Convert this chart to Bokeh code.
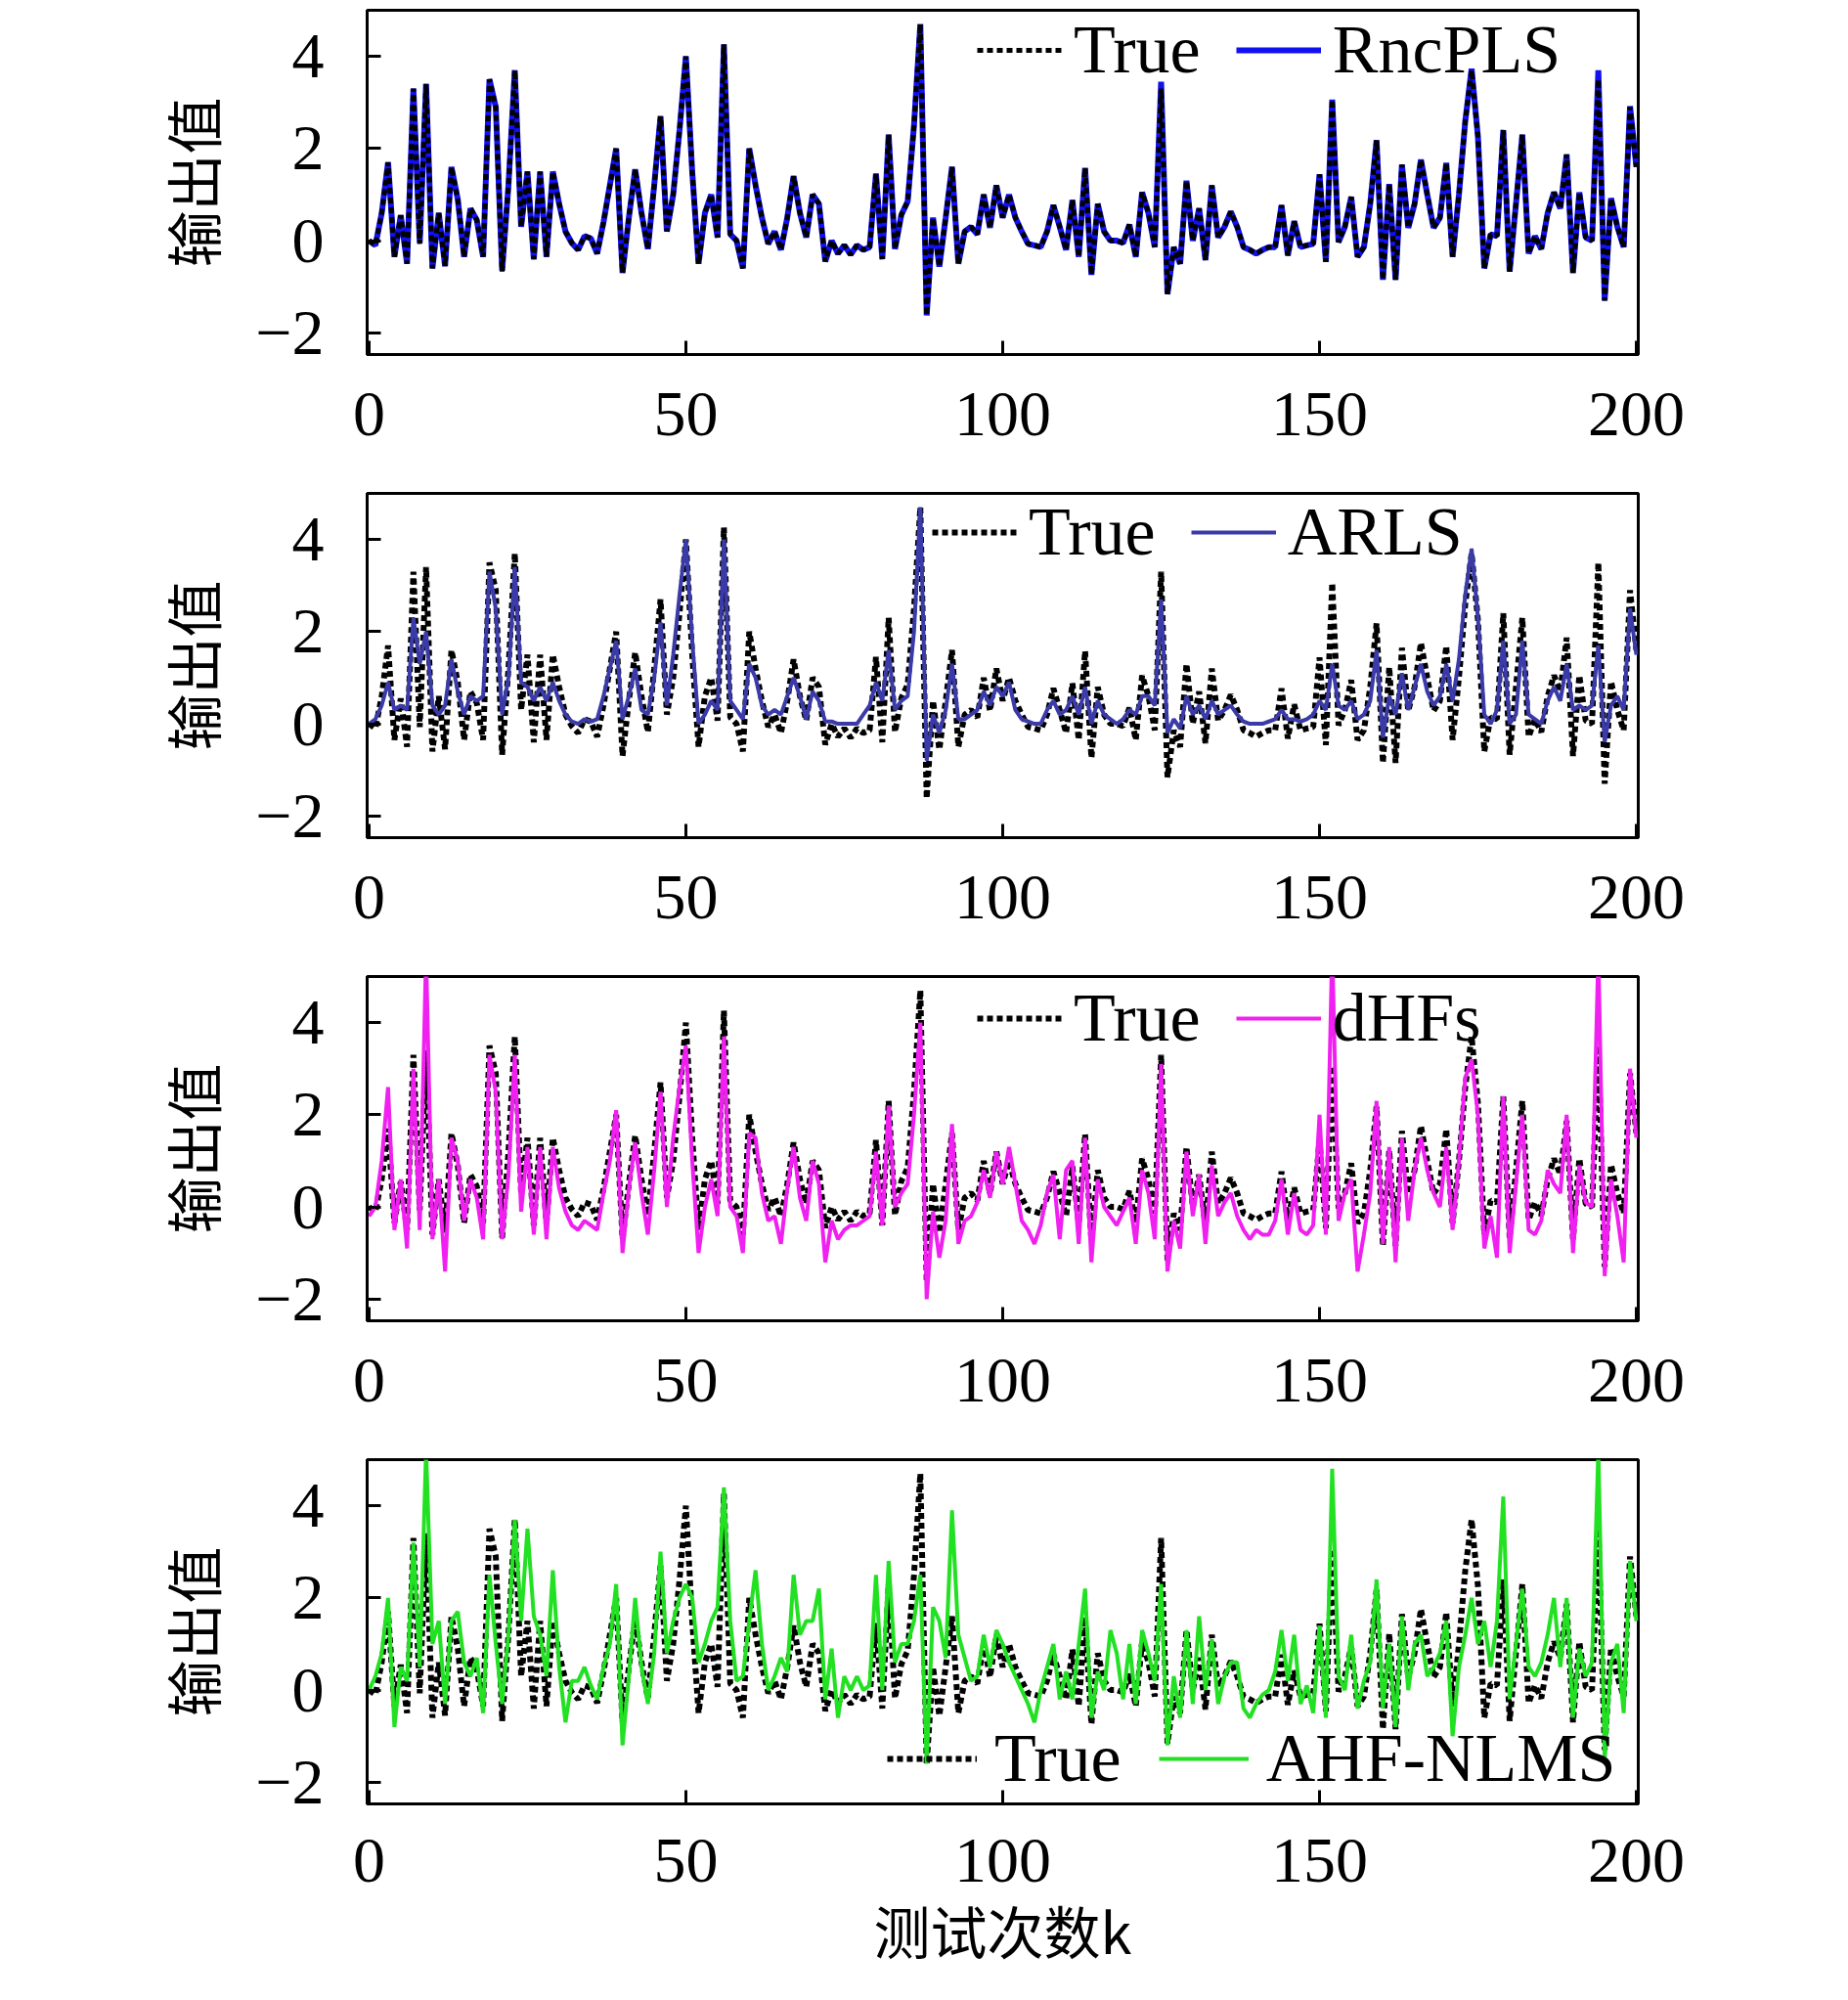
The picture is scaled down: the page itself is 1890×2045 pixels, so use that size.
from bokeh.plotting import figure
from bokeh.layouts import column
from bokeh.models import Range1d, FixedTicker, Legend, LegendItem
from bokeh.embed import file_html
from bokeh.resources import INLINE

# ---------------- data ----------------
k_vals = list(range(201))

true_vals = [
    0.0, -0.1, 0.6, 1.7, -0.35, 0.55, -0.5, 3.3, -0.07, 3.4,
    -0.6, 0.6, -0.55, 1.6, 0.9, -0.35, 0.7, 0.45, -0.35, 3.5,
    2.9, -0.67, 1.2, 3.7, 0.3, 1.5, -0.4, 1.5, -0.35, 1.5,
    0.8, 0.2, -0.05, -0.2, 0.1, 0.05, -0.28, 0.4, 1.2, 2.0,
    -0.7, 0.5, 1.55, 0.6, -0.18, 1.2, 2.7, 0.2, 1.0, 2.4,
    4.0, 1.5, -0.5, 0.6, 1.0, 0.07, 4.26, 0.14, 0.0, -0.6,
    2.0, 1.2, 0.5, -0.07, 0.2, -0.2, 0.5, 1.4, 0.6, 0.07,
    1.0, 0.8, -0.45, 0.0, -0.28, -0.1, -0.3, -0.1, -0.2, -0.14,
    1.45, -0.4, 2.3, -0.18, 0.56, 0.85, 2.5, 4.7, -1.62, 0.5,
    -0.56, 0.5, 1.6, -0.5, 0.2, 0.3, 0.14, 1.0, 0.28, 1.2,
    0.5, 1.0, 0.5, 0.2, -0.07, -0.1, -0.14, 0.2, 0.77, 0.3,
    -0.2, 0.88, -0.35, 1.58, -0.74, 0.8, 0.2, 0.0, 0.0, -0.05,
    0.35, -0.35, 1.05, 0.6, -0.14, 3.3, -1.16, -0.14, -0.5, 1.3,
    0.0, 0.7, -0.42, 1.2, 0.07, 0.3, 0.63, 0.3, -0.14, -0.2,
    -0.28, -0.2, -0.14, -0.14, 0.77, -0.32, 0.42, -0.14, -0.1, -0.07,
    1.44, -0.46, 3.06, -0.03, 0.3, 0.95, -0.35, -0.14, 0.8, 2.18,
    -0.85, 1.23, -0.85, 1.65, 0.28, 0.8, 1.76, 1.0, 0.28, 0.5,
    1.69, -0.35, 1.0, 2.6, 3.7, 2.25, -0.6, 0.14, 0.1, 2.4,
    -0.67, 0.8, 2.3, -0.28, 0.1, -0.18, 0.6, 1.05, 0.7, 1.87,
    -0.7, 1.05, 0.07, 0.0, 3.5, -1.3, 0.92, 0.3, -0.14, 2.9,
    1.6,
]

rncpls_vals = [
    0.0, -0.1, 0.6, 1.7, -0.35, 0.55, -0.5, 3.3, -0.05, 3.4,
    -0.6, 0.6, -0.55, 1.6, 0.9, -0.35, 0.7, 0.45, -0.35, 3.5,
    2.9, -0.65, 1.2, 3.7, 0.3, 1.5, -0.4, 1.5, -0.35, 1.5,
    0.8, 0.2, -0.05, -0.2, 0.1, 0.05, -0.28, 0.4, 1.2, 2.0,
    -0.7, 0.5, 1.55, 0.6, -0.18, 1.2, 2.7, 0.2, 1.0, 2.4,
    4.0, 1.5, -0.5, 0.6, 1.0, 0.07, 4.26, 0.14, 0.0, -0.6,
    2.0, 1.2, 0.5, -0.07, 0.2, -0.2, 0.5, 1.4, 0.6, 0.07,
    1.0, 0.8, -0.45, 0.0, -0.28, -0.1, -0.3, -0.1, -0.2, -0.14,
    1.45, -0.4, 2.3, -0.18, 0.56, 0.85, 2.5, 4.7, -1.62, 0.5,
    -0.56, 0.5, 1.6, -0.5, 0.2, 0.3, 0.14, 1.0, 0.28, 1.2,
    0.5, 1.0, 0.5, 0.2, -0.07, -0.1, -0.14, 0.2, 0.77, 0.3,
    -0.2, 0.88, -0.35, 1.58, -0.74, 0.8, 0.2, 0.0, 0.0, -0.05,
    0.35, -0.35, 1.05, 0.6, -0.14, 3.45, -1.16, -0.14, -0.5, 1.3,
    0.0, 0.7, -0.42, 1.2, 0.07, 0.3, 0.63, 0.3, -0.14, -0.2,
    -0.28, -0.2, -0.14, -0.14, 0.77, -0.32, 0.42, -0.14, -0.1, -0.07,
    1.44, -0.46, 3.06, -0.03, 0.3, 0.95, -0.35, -0.14, 0.8, 2.18,
    -0.85, 1.23, -0.85, 1.65, 0.28, 0.8, 1.76, 1.0, 0.28, 0.5,
    1.69, -0.35, 1.0, 2.6, 3.73, 2.25, -0.6, 0.14, 0.1, 2.4,
    -0.67, 0.8, 2.3, -0.28, 0.1, -0.18, 0.6, 1.05, 0.7, 1.87,
    -0.7, 1.05, 0.07, 0.0, 3.7, -1.3, 0.92, 0.3, -0.14, 2.92,
    1.6,
]

arls_vals = [
    0.0, 0.1, 0.4, 0.9, 0.3, 0.4, 0.3, 2.3, 1.3, 2.0,
    0.4, 0.2, 0.4, 1.4, 0.7, 0.2, 0.6, 0.5, 0.6, 3.3,
    2.5, 0.2, 1.0, 3.4, 0.9, 0.8, 0.5, 0.8, 0.5, 0.9,
    0.5, 0.2, 0.05, 0.0, 0.1, 0.05, 0.1, 0.6, 1.2, 1.8,
    0.1, 0.6, 1.2, 0.3, 0.2, 1.0, 2.2, 0.4, 1.5, 2.8,
    4.0, 1.8, 0.0, 0.2, 0.5, 0.3, 4.0, 0.5, 0.3, 0.1,
    1.3, 1.0, 0.4, 0.2, 0.3, 0.2, 0.6, 1.0, 0.6, 0.1,
    0.7, 0.5, 0.05, 0.05, 0.0, 0.0, 0.0, 0.0, 0.2, 0.4,
    0.9, 0.5, 1.6, 0.3, 0.5, 0.6, 2.0, 4.7, -0.8, 0.2,
    -0.2, 0.3, 1.3, 0.1, 0.1, 0.2, 0.3, 0.7, 0.4, 0.8,
    0.6, 0.9, 0.3, 0.1, 0.05, 0.0, 0.0, 0.3, 0.5, 0.2,
    0.3, 0.6, 0.2, 0.8, 0.0, 0.5, 0.2, 0.1, 0.0, 0.1,
    0.3, 0.2, 0.6, 0.6, 0.4, 2.7, -0.2, 0.1, -0.1, 0.6,
    0.2, 0.4, 0.1, 0.5, 0.2, 0.3, 0.4, 0.2, 0.05, 0.0,
    0.0, 0.0, 0.05, 0.1, 0.3, 0.1, 0.1, 0.05, 0.1, 0.2,
    0.5, 0.3, 1.3, 0.4, 0.3, 0.5, 0.1, 0.2, 0.5, 1.6,
    -0.3, 0.6, 0.2, 1.1, 0.3, 0.8, 1.3, 0.7, 0.4, 0.6,
    1.3, 0.5, 1.4, 2.8, 3.8, 2.3, 0.2, 0.0, 0.3, 1.8,
    0.0, 0.2, 1.8, 0.2, 0.1, 0.0, 0.5, 0.8, 0.5, 1.3,
    0.3, 0.4, 0.3, 0.4, 1.7, -0.4, 0.4, 0.6, 0.3, 2.5,
    1.5,
]

dhfs_vals = [
    -0.2, 0.0, 1.0, 2.6, -0.5, 0.6, -0.9, 3.0, -0.5, 5.5,
    -0.7, 0.6, -1.4, 1.5, 1.0, -0.3, 0.6, 0.2, -0.7, 3.3,
    2.5, -0.7, 0.7, 3.3, -0.1, 1.3, -0.6, 1.3, -0.7, 1.3,
    0.4, -0.1, -0.4, -0.5, -0.3, -0.4, -0.5, 0.3, 1.0, 2.1,
    -1.0, 0.4, 1.4, 0.3, -0.6, 0.8, 2.5, 0.0, 1.5, 2.6,
    3.5, 1.0, -1.0, 0.0, 0.6, -0.2, 3.7, 0.0, -0.2, -1.0,
    1.6, 1.5, 0.3, -0.3, -0.2, -0.8, 0.4, 1.3, 0.2, -0.3,
    1.0, 0.5, -1.2, -0.3, -0.7, -0.5, -0.4, -0.4, -0.3, -0.2,
    1.2, -0.4, 2.2, 0.0, 0.3, 0.5, 2.0, 4.0, -2.0, -0.1,
    -1.1, -0.3, 1.8, -0.8, -0.3, -0.2, 0.1, 0.8, 0.2, 1.2,
    0.5, 1.3, 0.5, -0.3, -0.5, -0.8, -0.4, 0.3, 0.7, -0.7,
    0.8, 1.0, -0.8, 1.5, -1.2, 0.6, 0.0, -0.2, -0.4, -0.1,
    0.2, -0.8, 0.8, 0.3, -0.7, 3.1, -1.4, -0.3, -0.9, 1.2,
    -0.2, 0.7, -0.8, 0.9, -0.2, 0.1, 0.3, -0.2, -0.5, -0.7,
    -0.5, -0.6, -0.6, -0.3, 0.6, -0.6, 0.3, -0.5, -0.6, -0.4,
    2.0, -0.6, 5.6, -0.3, 0.3, 0.6, -1.4, -0.6, 0.3, 2.3,
    -0.8, 1.3, -1.2, 1.5, -0.3, 0.8, 1.5, 0.8, 0.3, 0.0,
    1.3, -0.5, 1.0, 2.8, 3.2, 2.0, -0.9, -0.2, -1.1, 2.4,
    -1.0, 0.5, 2.0, -0.5, -0.6, -0.3, 0.8, 0.5, 0.3, 2.0,
    -1.0, 0.9, 0.1, 0.0, 5.5, -1.5, 0.6, -0.2, -1.2, 3.0,
    1.5,
]

ahf_vals = [
    0.0, 0.3, 0.8, 2.0, -0.8, 0.5, 0.2, 3.2, 0.5, 5.2,
    1.0, 1.5, -0.3, 1.5, 1.7, 0.6, 0.3, 0.7, -0.5, 2.5,
    1.0, -0.3, 1.2, 3.7, 1.5, 3.5, 1.6, 1.2, 0.3, 2.6,
    0.5, -0.7, 0.2, 0.2, 0.5, 0.1, -0.2, 0.5, 1.0, 2.3,
    -1.2, 0.3, 2.0, 0.5, -0.3, 0.8, 3.0, 0.8, 1.5, 2.0,
    2.3, 2.0, 0.6, 1.0, 1.5, 1.8, 4.4, 1.5, 0.2, 0.3,
    1.5, 2.6, 1.0, 0.0, 0.3, 0.7, 0.4, 2.5, 1.2, 1.5,
    1.5, 2.2, -0.2, 0.9, -0.6, 0.3, 0.0, 0.3, 0.0, 0.1,
    2.5, 0.0, 2.8, 0.6, 1.0, 1.0, 1.5, 2.5, -1.6, 1.8,
    1.5, 0.7, 3.9, 1.2, 0.7, 0.2, 0.3, 1.2, 0.5, 1.3,
    1.0, 0.6, 0.3, 0.0, -0.3, -0.7, 0.0, 0.5, 1.0, -0.2,
    0.4, -0.2, 1.0, 2.2, -0.6, 0.4, 0.0, 1.3, 0.8, -0.2,
    1.0, -0.3, 1.3, 0.8, 0.2, 2.3, -1.2, 0.3, -0.6, 1.3,
    -0.3, 1.6, 0.0, 1.1, -0.3, 0.3, 0.6, 0.6, -0.4, -0.6,
    -0.3, -0.1, 0.0, 0.4, 1.3, 0.2, 1.2, -0.3, 0.1, -0.5,
    1.4, -0.6, 4.8, 0.3, 0.0, 1.2, -0.4, 0.2, 0.6, 2.4,
    -0.4, 1.0, -0.8, 1.6, 0.0, 1.0, 1.2, 0.3, 0.5, 0.8,
    1.5, -1.0, 0.5, 1.2, 2.0, 1.0, 1.5, 0.5, 1.5, 4.2,
    -0.2, 1.0, 2.2, 0.5, 0.3, 0.6, 1.2, 2.0, 0.5, 2.0,
    -0.6, 0.9, 0.3, 0.6, 5.2, -1.5, 0.6, 1.0, -0.5, 2.8,
    1.5,
]

series_names = ["RncPLS", "ARLS", "dHFs", "AHF-NLMS"]
series_values = [rncpls_vals, arls_vals, dhfs_vals, ahf_vals]
series_colors = ["#1010F0", "#3A3AA8", "#F020F0", "#22E022"]
x_ticks = [0, 50, 100, 150, 200]
y_ticks = [-2, 0, 2, 4]
y_label = "输出值"
x_label = "测试次数k"

SERIF = "Liberation Serif"
CJK = "Noto Sans CJK SC"

legend_locs = [(624, 271), (578, 272), (624, 269), (532, 6)]
legend_glyph_w = [87, 87, 87, 92]
legend_standoff = [12, 12, 12, 18]
legend_spacing = [36, 36, 36, 38]


def make_panel(i):
    last = (i == 3)
    p = figure(frame_width=1300, frame_height=352,
               min_border_left=375, min_border_right=195,
               min_border_top=10, min_border_bottom=(185 if last else 132),
               output_backend="svg", toolbar_location=None,
               x_range=Range1d(-0.3, 200.3), y_range=Range1d(-2.47, 5.0))
    p.grid.visible = False
    p.background_fill_color = "white"
    p.border_fill_color = "white"
    p.outline_line_color = "black"
    p.outline_line_width = 3
    p.outline_line_alpha = 1.0

    for ax in (p.xaxis[0], p.yaxis[0]):
        ax.axis_line_width = 3
        ax.axis_line_color = "black"
        ax.major_tick_line_width = 3
        ax.major_tick_line_color = "black"
        ax.major_tick_in = 14
        ax.major_tick_out = 0
        ax.minor_tick_line_color = None
        ax.major_label_text_font = SERIF
        ax.major_label_text_font_size = "66px"
        ax.major_label_text_color = "black"

    p.xaxis.ticker = FixedTicker(ticks=x_ticks)
    p.yaxis.ticker = FixedTicker(ticks=y_ticks)
    p.yaxis.major_label_overrides = {-2: "\u22122"}
    p.xaxis.major_label_standoff = 36 if last else 39
    p.yaxis.major_label_standoff = 44

    p.yaxis.axis_label = y_label
    p.yaxis.axis_label_text_font = CJK
    p.yaxis.axis_label_text_font_size = "58px"
    p.yaxis.axis_label_text_font_style = "normal"
    p.yaxis.axis_label_text_color = "black"
    p.yaxis.axis_label_standoff = 20

    if last:
        p.xaxis.axis_label = x_label
        p.xaxis.axis_label_text_font = CJK
        p.xaxis.axis_label_text_font_size = "58px"
        p.xaxis.axis_label_text_font_style = "normal"
        p.xaxis.axis_label_text_color = "black"
        p.xaxis.axis_label_standoff = 4

    est = series_values[i]
    color = series_colors[i]
    if i == 0:
        r_est = p.line(k_vals, est, line_color=color, line_width=6)
        r_true = p.line(k_vals, true_vals, line_color="black", line_width=5,
                        line_dash="6 4")
    else:
        r_true = p.line(k_vals, true_vals, line_color="black", line_width=6,
                        line_dash="6 4")
        r_est = p.line(k_vals, est, line_color=color, line_width=4)

    legend = Legend(items=[LegendItem(label="True", renderers=[r_true]),
                           LegendItem(label=series_names[i], renderers=[r_est])],
                    orientation="horizontal", location=legend_locs[i],
                    glyph_width=legend_glyph_w[i], glyph_height=80, label_height=80,
                    label_standoff=legend_standoff[i], spacing=legend_spacing[i],
                    padding=0, margin=0,
                    label_text_font=SERIF, label_text_font_size="70px",
                    label_text_color="black",
                    background_fill_alpha=0.0, border_line_alpha=0.0)
    p.add_layout(legend)
    return p


panels = [make_panel(i) for i in range(4)]
layout = column(*panels, spacing=0)
open("out.html", "w").write(file_html(layout, INLINE))
